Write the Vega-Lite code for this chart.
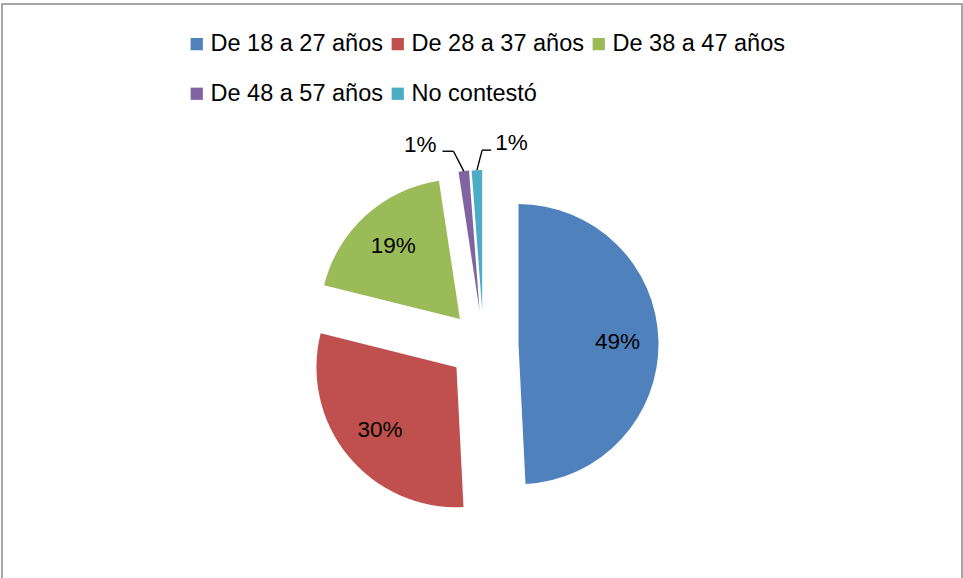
{
  "$schema": "https://vega.github.io/schema/vega-lite/v6.json",
  "width": 960,
  "height": 577,
  "autosize": {"type": "none"},
  "padding": {"left": 2, "top": 4, "right": 1, "bottom": -3},
  "background": "white",
  "config": {
    "view": {"stroke": "#898989", "strokeWidth": 1.5},
    "font": "Liberation Sans",
    "text": {"font": "Liberation Sans"}
  },
  "data": {
    "values": [
      {"categoria": "De 18 a 27 años", "p": 0.492},
      {"categoria": "De 28 a 37 años", "p": 0.297},
      {"categoria": "De 38 a 47 años", "p": 0.187},
      {"categoria": "De 48 a 57 años", "p": 0.012},
      {"categoria": "No contestó", "p": 0.012}
    ]
  },
  "transform": [
    {"window": [{"op": "sum", "field": "p", "as": "cum"}], "sort": [{"field": "categoria", "order": "ascending"}], "frame": [null, 0]},
    {"calculate": "datum.cum - datum.p", "as": "inicio"},
    {"calculate": "2 * PI * (datum.cum - datum.p / 2)", "as": "ang"},
    {"calculate": "35 * sin(datum.ang)", "as": "ex"},
    {"calculate": "35 * cos(datum.ang)", "as": "ey"},
    {"calculate": "134 * sin(datum.ang)", "as": "tx"},
    {"calculate": "134 * cos(datum.ang)", "as": "ty"},
    {"calculate": "175 * sin(datum.ang)", "as": "bx"},
    {"calculate": "175 * cos(datum.ang)", "as": "by"},
    {"calculate": "195 * sin(datum.ang)", "as": "kx"},
    {"calculate": "195 * cos(datum.ang)", "as": "ky"}
  ],
  "layer": [
    {
      "mark": {"type": "arc", "radius": 140},
      "encoding": {
        "x": {"field": "ex", "type": "quantitative", "stack": null, "scale": {"domain": [-481.5, 478.5], "nice": false, "zero": false}, "axis": null},
        "y": {"field": "ey", "type": "quantitative", "stack": null, "scale": {"domain": [-236, 341], "nice": false, "zero": false}, "axis": null},
        "theta": {"field": "inicio", "type": "quantitative", "stack": null, "scale": {"domain": [0, 1], "range": [0, 6.283185307179586]}},
        "theta2": {"field": "cum"},
        "color": {
          "field": "categoria",
          "type": "nominal",
          "scale": {
            "domain": ["De 18 a 27 años", "De 28 a 37 años", "De 38 a 47 años", "De 48 a 57 años", "No contestó"],
            "range": ["#4F81BD", "#C0504D", "#9BBB59", "#8064A2", "#4BACC6"]
          },
          "legend": {
            "title": null,
            "orient": "none",
            "legendX": 183,
            "legendY": 28,
            "direction": "horizontal",
            "columns": 3,
            "columnPadding": 3,
            "rowPadding": 25,
            "padding": 0,
            "symbolType": "square",
            "symbolSize": 150,
            "symbolStrokeWidth": 0,
            "labelFont": "Liberation Sans",
            "labelFontSize": 23.5,
            "labelColor": "#000000",
            "labelOffset": 2,
            "labelLimit": 0
          }
        }
      }
    },
    {
      "transform": [{"filter": "datum.p >= 0.05"}],
      "mark": {"type": "text", "fontSize": 22.5, "color": "#000000", "align": "center", "baseline": "middle"},
      "encoding": {
        "x": {"field": "tx", "type": "quantitative"},
        "y": {"field": "ty", "type": "quantitative"},
        "text": {"field": "p", "type": "quantitative", "format": ".0%"}
      }
    },
    {
      "transform": [{"filter": "datum.categoria == 'De 48 a 57 años'"}],
      "mark": {"type": "rule", "color": "#000000", "strokeWidth": 1.4, "x2Offset": -8},
      "encoding": {
        "x": {"field": "bx", "type": "quantitative"},
        "y": {"field": "by", "type": "quantitative"},
        "x2": {"field": "kx"},
        "y2": {"field": "ky"}
      }
    },
    {
      "transform": [{"filter": "datum.categoria == 'De 48 a 57 años'"}],
      "mark": {"type": "rule", "color": "#000000", "strokeWidth": 1.4, "xOffset": -8, "x2Offset": -19},
      "encoding": {
        "x": {"field": "kx", "type": "quantitative"},
        "x2": {"field": "kx"},
        "y": {"field": "ky", "type": "quantitative"}
      }
    },
    {
      "transform": [{"filter": "datum.categoria == 'De 48 a 57 años'"}],
      "mark": {"type": "text", "fontSize": 22.5, "color": "#000000", "align": "right", "baseline": "middle", "dx": -25, "dy": -6},
      "encoding": {
        "x": {"field": "kx", "type": "quantitative"},
        "y": {"field": "ky", "type": "quantitative"},
        "text": {"field": "p", "type": "quantitative", "format": ".0%"}
      }
    },
    {
      "transform": [{"filter": "datum.categoria == 'No contestó'"}],
      "mark": {"type": "rule", "color": "#000000", "strokeWidth": 1.4, "x2Offset": 6},
      "encoding": {
        "x": {"field": "bx", "type": "quantitative"},
        "y": {"field": "by", "type": "quantitative"},
        "x2": {"field": "kx"},
        "y2": {"field": "ky"}
      }
    },
    {
      "transform": [{"filter": "datum.categoria == 'No contestó'"}],
      "mark": {"type": "rule", "color": "#000000", "strokeWidth": 1.4, "xOffset": 6, "x2Offset": 15},
      "encoding": {
        "x": {"field": "kx", "type": "quantitative"},
        "x2": {"field": "kx"},
        "y": {"field": "ky", "type": "quantitative"}
      }
    },
    {
      "transform": [{"filter": "datum.categoria == 'No contestó'"}],
      "mark": {"type": "text", "fontSize": 22.5, "color": "#000000", "align": "left", "baseline": "middle", "dx": 19, "dy": -7},
      "encoding": {
        "x": {"field": "kx", "type": "quantitative"},
        "y": {"field": "ky", "type": "quantitative"},
        "text": {"field": "p", "type": "quantitative", "format": ".0%"}
      }
    }
  ]
}
